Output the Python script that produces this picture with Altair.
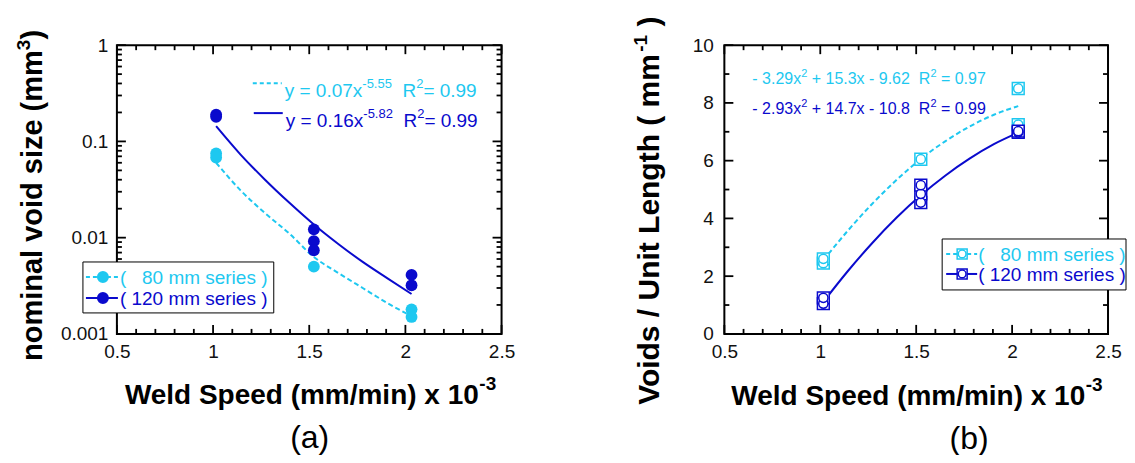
import altair as alt
import pandas as pd

# ---------------- data ----------------
speed_80 = [1.016, 1.016, 1.524, 2.032, 2.032]
void_80 = [0.075, 0.068, 0.0050, 0.0018, 0.0015]
speed_120 = [1.016, 1.016, 1.524, 1.524, 1.524, 2.032, 2.032]
void_120 = [0.19, 0.18, 0.0122, 0.0092, 0.0074, 0.0041, 0.0032]

fit_speed = [1.016, 1.143, 1.270, 1.397, 1.524, 1.651, 1.778, 1.905, 2.032]
void_fit_80 = [0.060, 0.031, 0.018, 0.011, 0.0063, 0.0043, 0.0030, 0.0021, 0.00153]
void_fit_120 = [0.144, 0.073, 0.040, 0.023, 0.0137, 0.0086, 0.0056, 0.0038, 0.0026]

count_80 = [2.45, 2.6, 6.05, 8.5, 7.25]
count_120 = [1.05, 1.25, 4.55, 4.85, 5.15, 6.98, 7.02]
count_fit_80 = [2.55, 3.57, 4.50, 5.33, 6.06, 6.67, 7.18, 7.59, 7.89]
count_fit_120 = [1.11, 2.17, 3.14, 4.02, 4.80, 5.48, 6.07, 6.57, 6.97]

x_major = [0.5, 1.0, 1.5, 2.0, 2.5]
x_minor = [0.6, 0.7, 0.8, 0.9, 1.1, 1.2, 1.3, 1.4, 1.6, 1.7, 1.8, 1.9, 2.1, 2.2, 2.3, 2.4]
logy_major = [0.001, 0.01, 0.1, 1]
logy_minor = [0.002, 0.003, 0.004, 0.005, 0.006, 0.007, 0.008, 0.009,
              0.02, 0.03, 0.04, 0.05, 0.06, 0.07, 0.08, 0.09,
              0.2, 0.3, 0.4, 0.5, 0.6, 0.7, 0.8, 0.9]
liny_major = [0, 2, 4, 6, 8, 10]
liny_minor = [1, 3, 5, 7, 9]

CYAN = "#1EC8F0"
BLUE = "#0A0ACD"
FONT = "Liberation Sans"
TICK = "black"

REG = {' ': 278, '\u00a0': 278, '(': 333, ')': 333, '-': 333, '.': 278, '=': 584, '+': 584,
       'x': 500, 'y': 500, 'R': 722, 'm': 833, 's': 500, 'e': 556, 'r': 333, 'i': 222}
BOLD = {' ': 278, '(': 333, ')': 333, '-': 333, '/': 278, 'W': 944, 'e': 556, 'l': 278, 'd': 611,
        'S': 667, 'p': 611, 'm': 889, 'i': 278, 'n': 611, 'x': 556, 'o': 611, 'a': 556, 'v': 556,
        's': 556, 'z': 500, 'V': 667, 'U': 722, 't': 333, 'L': 611, 'g': 611, 'h': 611}


def tw(s, size, bold=False):
    table = BOLD if bold else REG
    return sum(table.get(c, 556) for c in s) * size / 1000.0


one = pd.DataFrame({"k": [0]})


def txt(text, x, y, size, color="black", bold=False, align="left", angle=0, baseline="alphabetic"):
    kw = dict(text=text, fontSize=size, color=color, font=FONT,
              fontWeight="bold" if bold else "normal", align=align, baseline=baseline)
    if angle:
        kw["angle"] = angle
    return alt.Chart(one).mark_text(**kw).encode(x=alt.value(x), y=alt.value(y))


def seg(x1, x2, y, color, dash=False, width=2):
    kw = dict(color=color, strokeWidth=width)
    if dash:
        kw["strokeDash"] = [4, 3]
    return alt.Chart(one).mark_rule(**kw).encode(
        x=alt.value(x1), x2=alt.value(x2), y=alt.value(y), y2=alt.value(y))


def box(x1, x2, y1, y2, width=1, fill="white"):
    return alt.Chart(one).mark_rect(fill=fill, stroke="black", strokeWidth=width).encode(
        x=alt.value(x1), x2=alt.value(x2), y=alt.value(y1), y2=alt.value(y2))


def frame(w, h):
    return alt.Chart(one).mark_rect(filled=False, fillOpacity=0, stroke="black",
                                    strokeWidth=2).encode(
        x=alt.value(0), x2=alt.value(w), y=alt.value(0), y2=alt.value(h))


def sym(x, y, shape, color, filled, size):
    if filled:
        m = alt.Chart(one).mark_point(shape=shape, filled=True, fill=color, stroke=color,
                                      size=size, opacity=1)
    else:
        m = alt.Chart(one).mark_point(shape=shape, filled=False, stroke=color, fill="white",
                                      fillOpacity=1, strokeWidth=1.5, size=size, opacity=1)
    return m.encode(x=alt.value(x), y=alt.value(y))


def ticks(xscale, yscale, w, h, xvals, yvals, L):
    # inward tick marks on all four sides, placed by the scales
    dx = pd.DataFrame({"tv": xvals})
    dy = pd.DataFrame({"tv": yvals})
    xe = alt.X("tv:Q", scale=xscale, axis=None)
    ye = alt.Y("tv:Q", scale=yscale, axis=None)
    r = dict(color=TICK, strokeWidth=1.8, opacity=1)
    return [
        alt.Chart(dx).mark_rule(**r).encode(x=xe, x2=alt.X2("tv"), y=alt.value(h), y2=alt.value(h - L)),
        alt.Chart(dx).mark_rule(**r).encode(x=xe, x2=alt.X2("tv"), y=alt.value(0), y2=alt.value(L)),
        alt.Chart(dy).mark_rule(**r).encode(y=ye, y2=alt.Y2("tv"), x=alt.value(0), x2=alt.value(L)),
        alt.Chart(dy).mark_rule(**r).encode(y=ye, y2=alt.Y2("tv"), x=alt.value(w), x2=alt.value(w - L)),
    ]


def lab_axis(orient, values, fmt, pad):
    return alt.Axis(orient=orient, values=values, ticks=False, domain=False, grid=False,
                    labels=True, labelFont=FONT, labelFontSize=19, labelColor="#111",
                    labelPadding=pad, labelFlush=False, labelOverlap=False, format=fmt)


xs = alt.Scale(domain=[0.5, 2.5], nice=False, zero=False)
ys_log = alt.Scale(type="log", domain=[0.001, 1], nice=False)
ys_lin = alt.Scale(domain=[0, 10], nice=False, zero=False)

df80a = pd.DataFrame({"speed": speed_80, "val": void_80})
df120a = pd.DataFrame({"speed": speed_120, "val": void_120})
dffa = pd.DataFrame({"speed": fit_speed, "f80": void_fit_80, "f120": void_fit_120})
df80b = pd.DataFrame({"speed": speed_80, "val": count_80})
df120b = pd.DataFrame({"speed": speed_120, "val": count_120})
dffb = pd.DataFrame({"speed": fit_speed, "f80": count_fit_80, "f120": count_fit_120})

xt = "Weld Speed (mm/min) x 10"

# ---------------- panel (a) ----------------
WA, HA = 385, 289
Xa = alt.X("speed:Q", scale=xs, axis=None)

a_fit80 = alt.Chart(dffa).mark_line(color=CYAN, strokeWidth=2, strokeDash=[5, 3],
                                    interpolate="monotone").encode(
    x=alt.X("speed:Q", scale=xs, axis=lab_axis("bottom", x_major, ".1~f", 9), title=None),
    y=alt.Y("f80:Q", scale=ys_log, axis=lab_axis("left", logy_major, "~g", 9), title=None))
a_fit120 = alt.Chart(dffa).mark_line(color=BLUE, strokeWidth=2, interpolate="monotone").encode(
    x=Xa, y=alt.Y("f120:Q", scale=ys_log, axis=None))
a_p80 = alt.Chart(df80a).mark_circle(color=CYAN, size=140, opacity=1).encode(
    x=Xa, y=alt.Y("val:Q", scale=ys_log, axis=None))
a_p120 = alt.Chart(df120a).mark_circle(color=BLUE, size=140, opacity=1).encode(
    x=Xa, y=alt.Y("val:Q", scale=ys_log, axis=None))

anchor = alt.Chart(one).mark_rule(strokeOpacity=0, opacity=0).encode(
    x=alt.value(-109), x2=alt.value(-108), y=alt.value(-37), y2=alt.value(-36))

a_layers = [anchor, frame(WA, HA)]
a_layers += ticks(xs, ys_log, WA, HA, x_major, logy_major, 9)
a_layers += ticks(xs, ys_log, WA, HA, x_minor, logy_minor, 5)
a_layers += [a_fit80, a_fit120, a_p80, a_p120]

# annotations (a)
for (eq, ex, r2, col, dash, ly, by) in [("y = 0.07x", "-5.55", "= 0.99", CYAN, True, 38, 52),
                                       ("y = 0.16x", "-5.82", "= 0.99", BLUE, False, 68, 82)]:
    x0 = 168 if dash else 169
    a_layers.append(seg(x0 - 32, x0 - 3, ly, col, dash))
    a_layers.append(txt(eq, x0, by, 19, col))
    x1 = x0 + tw(eq, 19)
    a_layers.append(txt(ex, x1, by - 9, 13, col))
    x2 = x1 + tw(ex, 13) + tw("  ", 19)
    a_layers.append(txt("R", x2, by, 19, col))
    x3 = x2 + tw("R", 19)
    a_layers.append(txt("2", x3, by - 9, 13, col))
    a_layers.append(txt(r2, x3 + tw("2", 13), by, 19, col))

# legend (a)
a_layers.append(box(-34, 157, 217, 268))
a_layers.append(seg(-31, 1, 232, CYAN, True))
a_layers.append(sym(-14, 232, "circle", CYAN, True, 100))
a_layers.append(txt("(\u00a0\u00a0\u00a080 mm series )", 3, 239, 19, CYAN))
a_layers.append(seg(-31, 1, 253, BLUE, False))
a_layers.append(sym(-14, 253, "circle", BLUE, True, 100))
a_layers.append(txt("( 120 mm series )", 3, 260, 19, BLUE))

# axis titles (a)
a_layers.append(txt(xt, 8, 359, 28, bold=True))
a_layers.append(txt("-3", 8 + tw(xt, 28, True), 345, 19, bold=True))
yt = "nominal void size (mm"
y0 = 316
a_layers.append(txt(yt, -75, y0, 29, bold=True, angle=270))
y1 = y0 - tw(yt, 29, True)
a_layers.append(txt("3", -87, y1, 19, bold=True, angle=270))
a_layers.append(txt(")", -75, y1 - tw("3", 19, True), 29, bold=True, angle=270))
a_layers.append(txt("(a)", 193, 410, 32, align="center", baseline="bottom"))

panel_a = alt.layer(*a_layers).resolve_axis(x="independent", y="independent").properties(
    width=WA, height=HA)

# ---------------- panel (b) ----------------
WB, HB = 384, 289


def open_pts(df, shape, color, size):
    return alt.Chart(df).mark_point(shape=shape, filled=False, stroke=color, fill="white",
                                    fillOpacity=1, strokeWidth=1.5, size=size, opacity=1).encode(
        x=Xa, y=alt.Y("val:Q", scale=ys_lin, axis=None))


b_fit80 = alt.Chart(dffb).mark_line(color=CYAN, strokeWidth=2, strokeDash=[5, 3],
                                    interpolate="monotone").encode(
    x=alt.X("speed:Q", scale=xs, axis=lab_axis("bottom", x_major, ".1~f", 9), title=None),
    y=alt.Y("f80:Q", scale=ys_lin, axis=lab_axis("left", liny_major, "d", 11), title=None))
b_fit120 = alt.Chart(dffb).mark_line(color=BLUE, strokeWidth=2, interpolate="monotone").encode(
    x=Xa, y=alt.Y("f120:Q", scale=ys_lin, axis=None))

b_layers = [frame(WB, HB)]
b_layers += ticks(xs, ys_lin, WB, HB, x_major, liny_major, 9)
b_layers += ticks(xs, ys_lin, WB, HB, x_minor, liny_minor, 5)
b_layers += [b_fit80, b_fit120,
             open_pts(df80b, "square", CYAN, 140), open_pts(df80b, "circle", CYAN, 85),
             open_pts(df120b, "square", BLUE, 140), open_pts(df120b, "circle", BLUE, 85)]

for (p1, p2, r2, col, by) in [("- 3.29x", "+ 15.3x - 9.62", "= 0.97", CYAN, 39),
                              ("- 2.93x", "+ 14.7x - 10.8", "= 0.99", BLUE, 69)]:
    x0 = 28
    b_layers.append(txt(p1, x0, by, 16, col))
    x1 = x0 + tw(p1, 16)
    b_layers.append(txt("2", x1, by - 7, 11, col))
    x2 = x1 + tw("2", 11) + tw(" ", 16)
    b_layers.append(txt(p2, x2, by, 16, col))
    x3 = x2 + tw(p2, 16) + tw("  ", 16)
    b_layers.append(txt("R", x3, by, 16, col))
    x4 = x3 + tw("R", 16)
    b_layers.append(txt("2", x4, by - 7, 11, col))
    b_layers.append(txt(r2, x4 + tw("2", 11) + tw(" ", 16), by, 16, col))

# legend (b)
LX = 218
b_layers.append(box(LX, 402, 194, 245))
b_layers.append(seg(LX + 4, LX + 35, 209, CYAN, True))
b_layers.append(sym(LX + 20, 209, "square", CYAN, False, 100))
b_layers.append(sym(LX + 20, 209, "circle", CYAN, False, 60))
b_layers.append(txt("(\u00a0\u00a0\u00a080 mm series )", LX + 36, 216, 19, CYAN))
b_layers.append(seg(LX + 4, LX + 35, 229, BLUE, False))
b_layers.append(sym(LX + 20, 229, "square", BLUE, False, 100))
b_layers.append(sym(LX + 20, 229, "circle", BLUE, False, 60))
b_layers.append(txt("( 120 mm series )", LX + 36, 236, 19, BLUE))

b_layers.append(txt(xt, 7, 360, 28, bold=True))
b_layers.append(txt("-3", 7 + tw(xt, 28, True), 346, 19, bold=True))
ytb = "Voids / Unit Length ( mm"
yb0 = 360
b_layers.append(txt(ytb, -65, yb0, 30, bold=True, angle=270))
yb1 = yb0 - tw(ytb, 30, True)
b_layers.append(txt("-1", -77, yb1, 19, bold=True, angle=270))
b_layers.append(txt(")", -65, yb1 - tw("-1", 19, True) - tw(" ", 30, True), 30, bold=True, angle=270))
b_layers.append(txt("(b)", 245, 411, 32, align="center", baseline="bottom"))

panel_b = alt.layer(*b_layers).resolve_axis(x="independent", y="independent").properties(
    width=WB, height=HB)

chart = alt.hconcat(panel_a, panel_b, spacing=223, bounds="flush").properties(
    padding=0
).configure_view(strokeWidth=0)

chart.save("out.html", embed_options={"renderer": "svg", "actions": False})
